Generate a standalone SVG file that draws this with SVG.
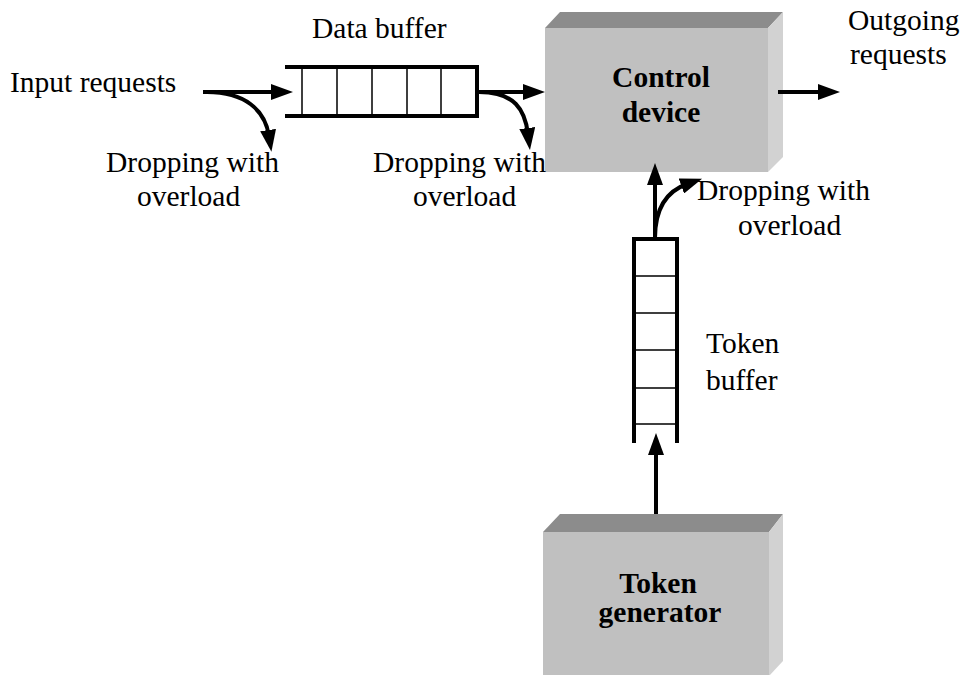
<svg xmlns="http://www.w3.org/2000/svg" width="966" height="675" viewBox="0 0 966 675">
<style>
.t{font-family:"Liberation Serif","Times New Roman",serif;font-size:29.5px;fill:#000}
.b{font-family:"Liberation Serif","Times New Roman",serif;font-size:29.5px;font-weight:bold;fill:#000;text-anchor:middle}
.front{fill:#c0c0c0}
.top{fill:#8c8c8c}
.side{fill:#d2d2d2}
.thick{stroke:#000;stroke-width:4;fill:none}
.thin{stroke:#000;stroke-width:1.5;fill:none}
.arr{stroke:#000;stroke-width:4;fill:none;marker-end:url(#ah)}
</style>
<defs>
<marker id="ah" viewBox="0 0 22 16" refX="6" refY="8" markerWidth="22" markerHeight="16" markerUnits="userSpaceOnUse" orient="auto">
<path d="M0,0 L22,8 L0,16 z" fill="#000"/>
</marker>
</defs>
<rect width="966" height="675" fill="#fff"/>
<g id="control-device">
<polygon class="top" points="545,28 560,12 783,12 768,28"/>
<polygon class="side" points="768,28 783,12 783,157 768,172"/>
<rect class="front" x="545" y="28" width="223" height="144"/>
<text class="b" x="661" y="87">Control</text>
<text class="b" x="661" y="122">device</text>
</g>
<g id="token-generator">
<polygon class="top" points="543,532 560,514 783,514 769,532"/>
<polygon class="side" points="769,532 783,514 783,661 769,676"/>
<rect class="front" x="543" y="532" width="226" height="144"/>
<text class="b" x="658" y="593">Token</text>
<text class="b" x="660" y="622">generator</text>
</g>
<g id="data-buffer">
<path class="thick" d="M285,67 H477 M285,116 H477 M477,65 V118"/>
<path class="thin" d="M302,67 V116 M337,67 V116 M372,67 V116 M407,67 V116 M441,67 V116"/>
<text class="t" x="312" y="38">Data buffer</text>
</g>
<g id="token-buffer">
<path class="thick" d="M634,443 V239 H677 V443"/>
<path class="thin" d="M634,276 H677 M634,313 H677 M634,350 H677 M634,388 H677 M634,424 H677"/>
<text class="t" x="706" y="353">Token</text>
<text class="t" x="706" y="390">buffer</text>
</g>
<g id="labels">
<text class="t" x="10" y="92">Input requests</text>
<text class="t" x="106" y="172">Dropping with</text>
<text class="t" x="137" y="206">overload</text>
<text class="t" x="373" y="172">Dropping with</text>
<text class="t" x="413" y="206">overload</text>
<text class="t" x="848" y="30">Outgoing</text>
<text class="t" x="850" y="64">requests</text>
<text class="t" x="697" y="200">Dropping with</text>
<text class="t" x="738" y="235">overload</text>
</g>
<g id="connectors">
<path class="arr" d="M203,92 H277"/>
<path class="arr" d="M207,92 C245,92 265,110 269,136"/>
<path class="arr" d="M477,92 H529"/>
<path class="arr" d="M479,92 C515,92 525,110 528,134"/>
<path class="arr" d="M778,92 H824"/>
<path class="arr" d="M656,514 V449"/>
<path class="arr" d="M655,239 V179"/>
<path class="arr" d="M655,238 C655,205 670,190 687,184"/>
</g>
</svg>
